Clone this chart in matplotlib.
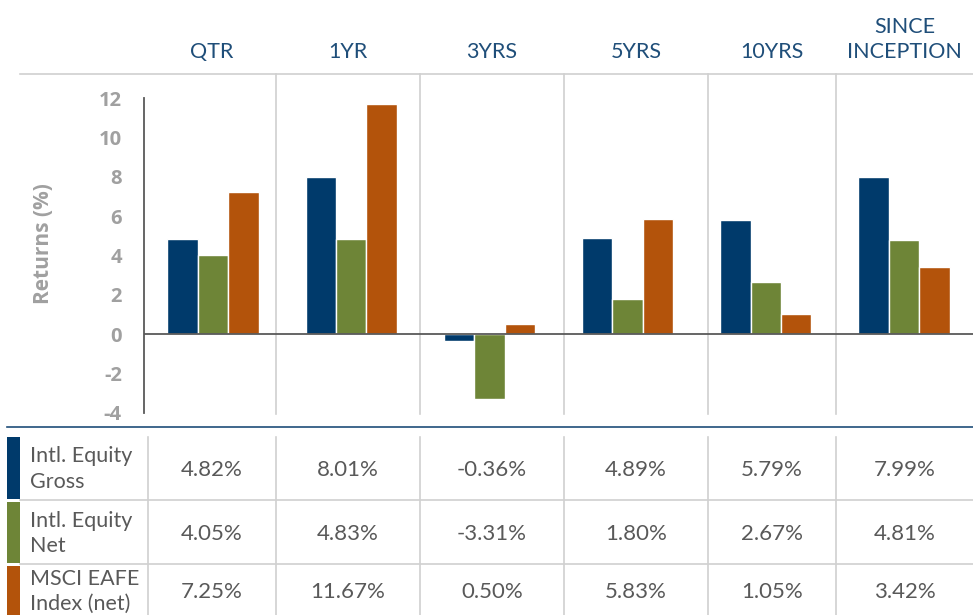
import matplotlib.pyplot as plt
import matplotlib.patches as mpatches
import numpy as np

plt.rcParams['font.family'] = ['Lato', 'DejaVu Sans']
plt.rcParams['axes.unicode_minus'] = False

periods = ["QTR", "1YR", "3YRS", "5YRS", "10YRS", "SINCE\nINCEPTION"]
series = ["Intl. Equity\nGross", "Intl. Equity\nNet", "MSCI EAFE\nIndex (net)"]
gross = [4.82, 8.01, -0.36, 4.89, 5.79, 7.99]
net = [4.05, 4.83, -3.31, 1.80, 2.67, 4.81]
eafe = [7.25, 11.67, 0.50, 5.83, 1.05, 3.42]
colors = ["#003A6B", "#6E8537", "#B3530B"]

W, H = 973, 615
fig = plt.figure(figsize=(W / 100, H / 100), dpi=100)

# overlay in pixel coords for the slide-table layout
lay = fig.add_axes([0, 0, 1, 1])
lay.set_xlim(0, W)
lay.set_ylim(H, 0)
lay.axis("off")

grid = "#D0D0D0"
col_edges = [148, 276, 420, 564, 708, 836, 973]
col_mid = [(a + b) / 2 for a, b in zip(col_edges[:-1], col_edges[1:])]

# header
lay.plot([20, W], [74, 74], color=grid, lw=1.2)
for x, p in zip(col_mid, periods):
    lay.text(x, 62, p, ha="center", va="bottom", fontsize=15.5, color="#1F4E79",
             linespacing=1.3)
for x in col_edges[1:-1]:
    lay.plot([x, x], [74, 414], color=grid, lw=1.2)

# table
lay.plot([7, W], [427, 427], color="#1F4E79", lw=1.2)
rows = [(437, 499), (502, 563), (566, 615)]
for (y0, y1), c, lab, g in zip(rows, colors, series, [gross, net, eafe]):
    lay.add_patch(mpatches.Rectangle((7, y0), 13, y1 - y0, color=c, lw=0))
    lay.text(30, (y0 + y1) / 2 + 1, lab, ha="left", va="center", fontsize=15.5,
             color="#595959", linespacing=1.35)
    for x, v in zip(col_mid, g):
        lay.text(x, (y0 + y1) / 2 + 2, f"{v:.2f}%", ha="center", va="center",
                 fontsize=16, color="#595959")
for y in [500, 564]:
    lay.plot([20, W], [y, y], color=grid, lw=1.2)
for x in col_edges[:-1]:
    lay.plot([x, x], [437, H], color=grid, lw=1.2)

# bar chart
ax = fig.add_axes([144 / W, (H - 413) / H, (W - 144) / W, 315 / H])
ax.set_facecolor("none")
xs = np.arange(len(periods))
bw = 0.22
for i, (vals, c) in enumerate(zip([gross, net, eafe], colors)):
    ax.bar(xs + (i - 1) * bw, vals, bw, color=c, edgecolor="white", lw=1, zorder=3)
ax.axhline(0, color="#595959", lw=1.3, zorder=4)
ax.set_xlim(-0.5, 5.5)
ax.set_ylim(-4, 12)
ax.set_yticks(range(-4, 13, 2))
ax.set_xticks([])
for s in ["top", "right", "bottom"]:
    ax.spines[s].set_visible(False)
ax.spines["left"].set_color("#595959")
ax.spines["left"].set_linewidth(1.3)
ax.tick_params(axis="y", length=0, pad=16, labelsize=14.5, labelcolor="#A0A0A0")
for t in ax.get_yticklabels():
    t.set_fontweight("bold")
    t.set_family(["Open Sans", "DejaVu Sans"])
ax.set_ylabel("Returns (%)", fontsize=15, fontweight="bold", color="#A0A0A0",
              family=["Open Sans", "DejaVu Sans"])
ax.yaxis.set_label_coords(-0.108, 0.537)

fig.savefig("out.png", dpi=100)
